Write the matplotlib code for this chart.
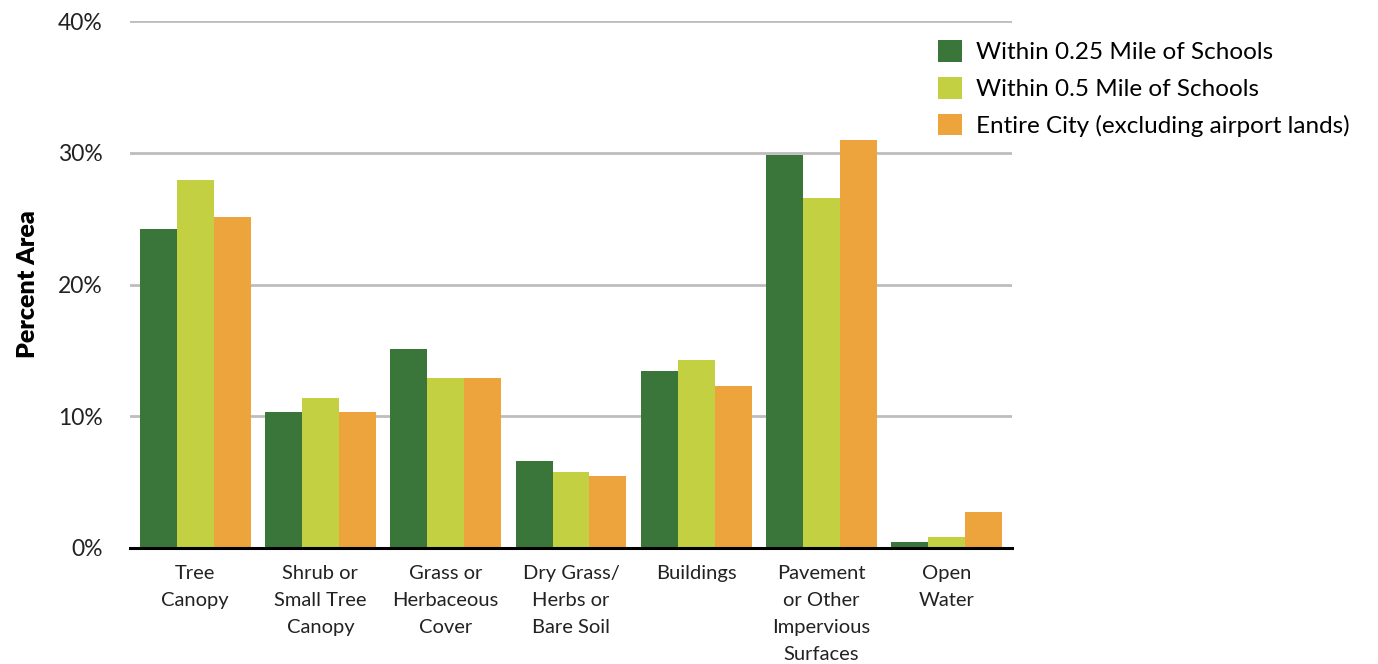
import matplotlib
matplotlib.use('Agg')
import matplotlib.pyplot as plt
import numpy as np
from matplotlib.ticker import FuncFormatter

plt.rcParams['font.family'] = ['Lato', 'DejaVu Sans']

# land cover classes and their share of area (%)
categories = ['Tree\nCanopy', 'Shrub or\nSmall Tree\nCanopy', 'Grass or\nHerbaceous\nCover',
              'Dry Grass/\nHerbs or\nBare Soil', 'Buildings',
              'Pavement\nor Other\nImpervious\nSurfaces', 'Open\nWater']
series_names = ['Within 0.25 Mile of Schools', 'Within 0.5 Mile of Schools',
                'Entire City (excluding airport lands)']
quarter_mile = [24.2, 10.3, 15.1, 6.6, 13.4, 29.8, 0.45]
half_mile = [27.9, 11.4, 12.9, 5.8, 14.3, 26.6, 0.8]
entire_city = [25.1, 10.3, 12.9, 5.5, 12.3, 31.0, 2.7]
y_ticks = [0, 10, 20, 30, 40]

colors = ['#3A763A', '#C2D042', '#EEA43C']

fig = plt.figure(figsize=(13.78, 6.64), dpi=100)
ax = fig.add_axes([130 / 1378, 1 - 548 / 664, 882 / 1378, 527 / 664])

x = np.arange(len(categories))
w = 0.295
for i, (vals, name) in enumerate(zip([quarter_mile, half_mile, entire_city], series_names)):
    ax.bar(x + (i - 1) * w, vals, width=w, color=colors[i], label=name, zorder=3)

ax.set_xlim(-0.52, len(categories) - 0.48)
ax.set_ylim(0, 40)
ax.set_yticks(y_ticks)
ax.yaxis.set_major_formatter(FuncFormatter(lambda v, p: f'{v:.0f}%'))
ax.yaxis.grid(True, color='#BDBDBD', linewidth=2)
ax.set_axisbelow(True)
for s in ['top', 'right', 'left']:
    ax.spines[s].set_visible(False)
ax.spines['bottom'].set_color('black')
ax.spines['bottom'].set_linewidth(2.2)
ax.spines['bottom'].set_zorder(4)

ax.tick_params(axis='y', length=0, pad=19.5, labelsize=16.5, labelcolor='#222222')
ax.tick_params(axis='x', length=0, pad=12, labelsize=14.5, labelcolor='#222222')
ax.set_xticks(x)
ax.set_xticklabels(categories, linespacing=1.72, va='top')

ax.set_ylabel('Percent Area', fontsize=18, fontweight='heavy', labelpad=14)

fig.legend(loc='upper left', bbox_to_anchor=(938 / 1378, 1 - 40 / 664), frameon=False,
           fontsize=17.5, handlelength=1.0, handleheight=1.0, handletextpad=0.58,
           labelspacing=0.56, borderaxespad=0, borderpad=0)

fig.savefig('out.png', dpi=100)
